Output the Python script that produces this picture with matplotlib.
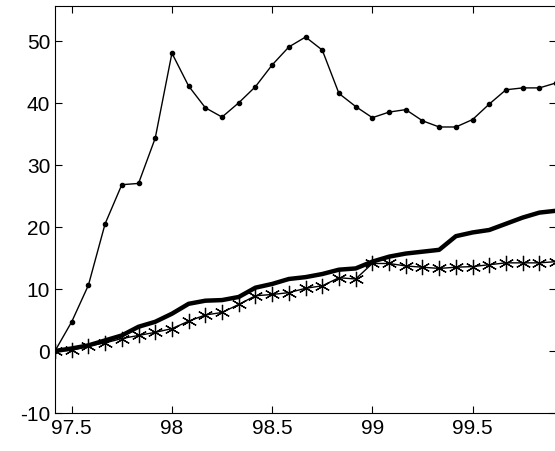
import numpy as np
import matplotlib
matplotlib.use("Agg")
import matplotlib.pyplot as plt

x_start = 97.0 + 5/12
n = 31
x = x_start + np.arange(n) / 12.0

dots = [0, 4.7, 10.6, 20.5, 26.8, 27, 34.3, 48, 42.7, 39.2, 37.7, 40, 42.6, 46.1, 49, 50.6,
        48.5, 41.5, 39.4, 37.6, 38.5, 38.9, 37.1, 36.1, 36.1, 37.3, 39.8, 42.1, 42.4, 42.4, 43.2]
stars = [0, 0.1, 0.8, 1.3, 2.0, 2.5, 3.0, 3.6, 4.8, 5.8, 6.2, 7.5, 8.9, 9.1, 9.4, 10.1,
         10.5, 11.8, 11.6, 14.1, 14.1, 13.7, 13.5, 13.3, 13.5, 13.6, 13.9, 14.2, 14.2, 14.2, 14.4]
thick = [0, 0.4, 0.9, 1.7, 2.5, 3.9, 4.7, 6.0, 7.6, 8.1, 8.2, 8.7, 10.2, 10.8, 11.6, 11.9,
         12.4, 13.1, 13.3, 14.4, 15.2, 15.7, 16.0, 16.3, 18.5, 19.1, 19.5, 20.5, 21.5, 22.3, 22.6]

plt.rcParams['font.family'] = ['Liberation Sans', 'DejaVu Sans']
plt.rcParams['axes.unicode_minus'] = False
fig = plt.figure(figsize=(5.55, 4.52), dpi=100)
ax = fig.add_axes([55/555, 38/452, 1.0 - 55/555 + 0.002, 1 - 38/452 - 7/452])
ax.plot(x, dots, 'k-', marker='o', markersize=3, linewidth=1)
ax.plot(x, thick, 'k-', linewidth=3.2)
ax.plot(x, stars, 'k-', marker=(6, 2, 0), markersize=11, markeredgewidth=0.9, linewidth=1)
ax.set_xlim(x[0], x[-1])
ax.set_ylim(-10, 55.6)
ax.set_xticks([97.5, 98, 98.5, 99, 99.5])
ax.set_xticklabels(['97.5', '98', '98.5', '99', '99.5'])
ax.set_yticks([-10, 0, 10, 20, 30, 40, 50])
ax.tick_params(direction='in', top=True, right=True, labelsize=15, length=5)
fig.savefig('out.png', dpi=100)
